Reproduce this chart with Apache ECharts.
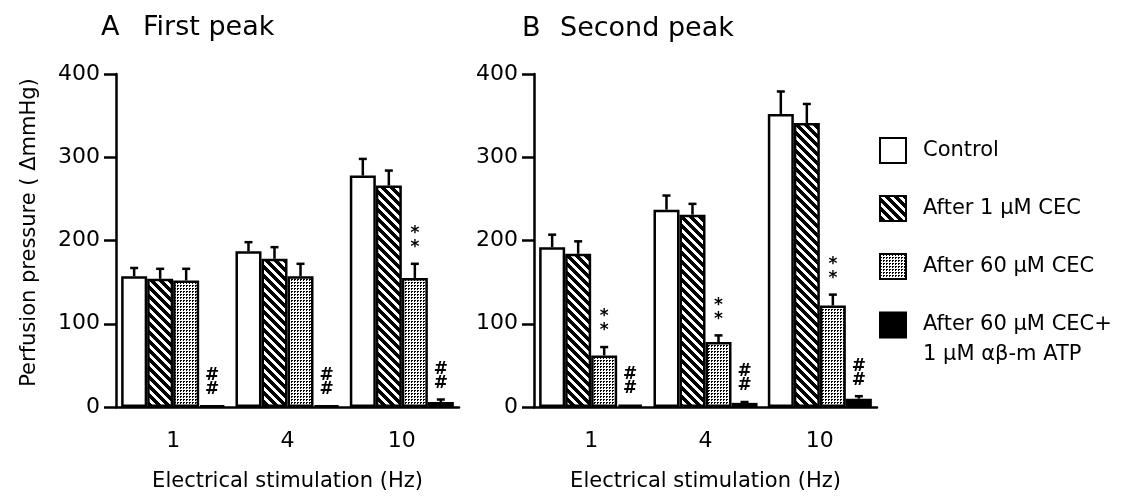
<!DOCTYPE html>
<html>
<head>
<meta charset="utf-8">
<script src="https://cdn.jsdelivr.net/npm/echarts@6/dist/echarts.min.js"></script>
<style>
  html, body { margin: 0; padding: 0; background: #fff; }
  #chart { width: 1126px; height: 498px; }
</style>
</head>
<body>
<div id="chart"></div>
<script>
var categories = ['1', '4', '10'];
var seriesNames = ['Control', 'After 1 \u03bcM CEC', 'After 60 \u03bcM CEC', 'After 60 \u03bcM CEC+\n1 \u03bcM \u03b1\u03b2-m ATP'];

// A - first peak
var controlA = [157, 187, 278];
var controlAErr = [10, 11, 20];
var cec1A = [154, 178, 266];
var cec1AErr = [12, 14, 18];
var cec60A = [152, 157, 155];
var cec60AErr = [14, 15, 17];
var atpA = [2, 2, 6];
var atpAErr = [0, 0, 3];
var cec60AMarks = ['', '', '**'];
var atpAMarks = ['##', '##', '##'];

// B - second peak
var controlB = [192, 237, 352];
var controlBErr = [15, 17, 27];
var cec1B = [184, 231, 341];
var cec1BErr = [15, 13, 23];
var cec60B = [62, 78, 122];
var cec60BErr = [10, 8, 13];
var atpB = [3, 5, 10];
var atpBErr = [0, 1, 3];
var cec60BMarks = ['**', '**', '**'];
var atpBMarks = ['##', '##', '##'];

var noMarks = ['', '', ''];
var FONT = 'DejaVu Sans';
var catGap = 0.09;

function makePattern(size, isBlack) {
  var c = document.createElement('canvas');
  c.width = size; c.height = size;
  var ctx = c.getContext('2d');
  ctx.fillStyle = '#fff';
  ctx.fillRect(0, 0, size, size);
  ctx.fillStyle = '#000';
  for (var y = 0; y < size; y++) {
    for (var x = 0; x < size; x++) {
      if (isBlack(x, y)) ctx.fillRect(x, y, 1, 1);
    }
  }
  return { image: c, repeat: 'repeat' };
}
var hatch = makePattern(9, function (x, y) { return ((x - y + 18) % 9) >= 4; });
var dots = makePattern(3, function (x, y) { return (x === 0 && y < 2) || (x === 1 && y === 0); });
var fills = ['#fff', hatch, dots, '#000'];

function barSeries(k, data, xi) {
  return {
    name: seriesNames[k], type: 'bar', xAxisIndex: xi, yAxisIndex: xi,
    data: data, barGap: '0%', barCategoryGap: (catGap * 100) + '%',
    itemStyle: { color: fills[k], borderColor: '#000', borderWidth: 2.5 },
    emphasis: { disabled: true }
  };
}

// error bar + significance marks on top of bar k
function errSeries(k, vals, errs, marks, xi) {
  return {
    type: 'custom', xAxisIndex: xi, yAxisIndex: xi, z: 5,
    data: vals.map(function (v, i) { return [i, v, errs[i]]; }),
    encode: { x: 0, y: 1 },
    renderItem: function (params, api) {
      var i = params.dataIndex;
      var v = api.value(1), e = api.value(2);
      var band = api.size([1, 0])[0];
      var inner = band * (1 - catGap);
      var bw = inner / 4;
      var p0 = api.coord([api.value(0), v]);
      var p1 = api.coord([api.value(0), v + e]);
      var x = p0[0] - inner / 2 + bw * (k + 0.5);
      var kids = [];
      if (e > 0) {
        kids.push({ type: 'line', shape: { x1: x, y1: p0[1], x2: x, y2: p1[1] }, style: { stroke: '#000', lineWidth: 2.5 } });
        kids.push({ type: 'line', shape: { x1: x - 4, y1: p1[1], x2: x + 4, y2: p1[1] }, style: { stroke: '#000', lineWidth: 2.5 } });
      }
      if (marks[i]) {
        kids.push({ type: 'text', style: {
          text: marks[i].split('').join('\n'), x: x, y: p1[1] - 9,
          align: 'center', verticalAlign: 'bottom',
          fontSize: 17, fontWeight: 'bold', lineHeight: 14, fontFamily: FONT, fill: '#000'
        } });
      }
      return { type: 'group', children: kids };
    }
  };
}

var axisLine = { color: '#000', width: 2.5 };

function xAxis(gi) {
  return {
    type: 'category', gridIndex: gi, data: categories,
    axisLine: { lineStyle: axisLine },
    axisTick: { length: 13, interval: function (i) { return i > 0; }, lineStyle: axisLine },
    axisLabel: { fontSize: 22, color: '#000', margin: 23, fontFamily: FONT },
    name: 'Electrical stimulation (Hz)', nameLocation: 'middle', nameGap: 64,
    nameTextStyle: { fontSize: 21, color: '#000', fontFamily: FONT }
  };
}
function yAxis(gi, name) {
  return {
    type: 'value', gridIndex: gi, min: 0, max: 400, interval: 100,
    axisLine: { show: true, lineStyle: axisLine },
    axisTick: { show: true, length: 12, lineStyle: axisLine },
    splitLine: { show: false },
    axisLabel: { fontSize: 22, color: '#000', margin: 16, fontFamily: FONT },
    name: name, nameLocation: 'middle', nameGap: 76,
    nameTextStyle: { fontSize: 21, color: '#000', fontFamily: FONT, padding: [0, 0, 0, 16] }
  };
}

var titleStyle = { fontSize: 27, fontWeight: 'normal', color: '#000', fontFamily: FONT };
var legendText = { fontSize: 21, lineHeight: 30, color: '#000', fontFamily: FONT, padding: [0, 0, 0, 12] };
var legendBase = {
  orient: 'vertical', left: 879, padding: 0,
  itemWidth: 26, itemHeight: 25, itemGap: 28, icon: 'rect',
  textStyle: legendText
};

var chart = echarts.init(document.getElementById('chart'));
chart.setOption({
  animation: false,
  backgroundColor: '#fff',
  title: [
    { text: 'A', left: 101, top: 14, padding: 0, textStyle: titleStyle },
    { text: 'First peak', left: 143, top: 14, padding: 0, textStyle: titleStyle },
    { text: 'B', left: 522, top: 15, padding: 0, textStyle: titleStyle },
    { text: 'Second peak', left: 560, top: 15, padding: 0, textStyle: titleStyle }
  ],
  legend: [
    Object.assign({}, legendBase, { top: 135.5, data: seriesNames.slice(0, 3) }),
    // two-line entry: empty first line keeps the box level with the first text line
    Object.assign({}, legendBase, {
      top: 280, data: seriesNames.slice(3),
      formatter: function (name) { return '\n' + name; }
    })
  ],
  grid: [
    { left: 116, top: 74, width: 343, height: 333 },
    { left: 534, top: 74, width: 343, height: 333 }
  ],
  xAxis: [xAxis(0), xAxis(1)],
  yAxis: [yAxis(0, 'Perfusion pressure ( \u0394mmHg)'), yAxis(1, '')],
  series: [
    barSeries(0, controlA, 0), barSeries(1, cec1A, 0), barSeries(2, cec60A, 0), barSeries(3, atpA, 0),
    barSeries(0, controlB, 1), barSeries(1, cec1B, 1), barSeries(2, cec60B, 1), barSeries(3, atpB, 1),
    errSeries(0, controlA, controlAErr, noMarks, 0),
    errSeries(1, cec1A, cec1AErr, noMarks, 0),
    errSeries(2, cec60A, cec60AErr, cec60AMarks, 0),
    errSeries(3, atpA, atpAErr, atpAMarks, 0),
    errSeries(0, controlB, controlBErr, noMarks, 1),
    errSeries(1, cec1B, cec1BErr, noMarks, 1),
    errSeries(2, cec60B, cec60BErr, cec60BMarks, 1),
    errSeries(3, atpB, atpBErr, atpBMarks, 1)
  ]
});
</script>
</body>
</html>
